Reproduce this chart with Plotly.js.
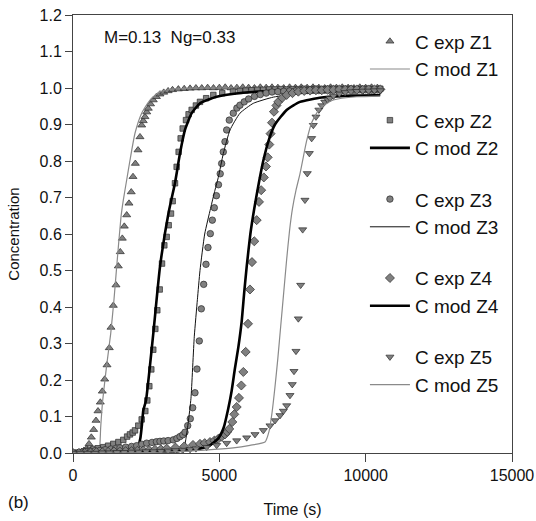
<!DOCTYPE html>
<html>
<head>
<meta charset="utf-8">
<script src="https://cdn.plot.ly/plotly-3.0.1.min.js"></script>
<style>html,body{margin:0;padding:0;background:#fff;}#chart{width:536px;height:521px;}</style>
</head>
<body>
<div id="chart"></div>
<script>
// ---- Experimental data (Time s, Concentration) ----
const t1e = [0,75,150,225,300,375,470,547,626,707,786,854,933,1001,1083,1162,1240,1298,1377,1469,1548,1616,1685,1753,1835,1913,1990,2050,2130,2221,2289,2347,2400,2460,2520,2573,2650,2743,2850,2972,3100,3250,3400,3600,3800,4000,4200,4400,4600,4800,5000,5200,5400,5600,5800,6000,6200,6400,6600,6800,7000,7200,7400,7600,7800,8000,8200,8400,8600,8800,9000,9200,9400,9600,9800,10000,10200,10400];
const c1e = [0,0,0.001,0.002,0.004,0.007,0.012,0.025,0.043,0.064,0.089,0.115,0.139,0.169,0.202,0.241,0.288,0.344,0.404,0.460,0.512,0.551,0.588,0.621,0.652,0.684,0.715,0.757,0.793,0.830,0.866,0.898,0.910,0.921,0.934,0.944,0.956,0.967,0.976,0.983,0.988,0.992,0.995,0.997,0.998,0.999,1.0,1.0,1.001,1.0,1.001,1.002,1.0,1.001,1.002,1.001,1.0,1.002,1.001,1.002,1.001,1.0,1.002,1.001,1.002,1.001,1.002,1.001,1.0,1.002,1.001,1.002,1.001,1.0,1.002,1.001,1.002,1.001];

const t2e = [0,150,300,450,581,700,850,1035,1200,1377,1550,1719,1850,1947,2040,2118,2231,2347,2471,2539,2607,2675,2743,2812,2880,2962,3041,3120,3200,3269,3348,3406,3485,3542,3610,3679,3748,3861,3950,4055,4200,4339,4550,4795,5100,5466,5700,5900,6100,6300,6500,6700,6900,7100,7300,7500,7700,7900,8100,8300,8500,8700,8900,9100,9300,9500,9700,9900,10100,10300,10500];
const c2e = [0,0,0.002,0.005,0.009,0.011,0.013,0.016,0.02,0.025,0.03,0.036,0.045,0.051,0.056,0.062,0.075,0.092,0.115,0.144,0.183,0.229,0.283,0.340,0.391,0.448,0.519,0.569,0.592,0.624,0.656,0.69,0.739,0.784,0.825,0.862,0.889,0.912,0.928,0.94,0.952,0.962,0.972,0.981,0.986,0.99,0.992,0.993,0.994,0.995,0.995,0.996,0.996,0.997,0.996,0.997,0.997,0.998,0.997,0.998,0.997,0.998,0.998,0.997,0.998,0.998,0.997,0.998,0.998,0.997,0.998];

const t3e = [0,150,300,450,600,750,922,1100,1300,1450,1606,1800,2000,2176,2350,2517,2700,2850,2972,3100,3250,3427,3550,3656,3750,3826,3919,4008,4090,4168,4236,4315,4384,4465,4544,4612,4692,4760,4828,4900,4970,5030,5080,5135,5193,5251,5340,5477,5600,5705,5850,6000,6200,6400,6600,6800,7000,7200,7400,7600,7800,8000,8200,8400,8600,8800,9000,9200,9400,9600,9800,10000,10200,10400];
const c3e = [0,0,0.002,0.004,0.005,0.006,0.007,0.009,0.011,0.012,0.014,0.016,0.018,0.02,0.024,0.027,0.029,0.031,0.032,0.033,0.034,0.036,0.04,0.045,0.05,0.057,0.075,0.094,0.124,0.165,0.230,0.307,0.395,0.462,0.517,0.563,0.601,0.638,0.672,0.705,0.735,0.765,0.793,0.825,0.853,0.885,0.912,0.931,0.945,0.953,0.962,0.97,0.977,0.982,0.986,0.989,0.99,0.991,0.992,0.992,0.993,0.993,0.994,0.993,0.994,0.994,0.995,0.994,0.995,0.994,0.995,0.995,0.994,0.995];

const t4e = [0,200,400,600,800,1000,1200,1400,1600,1800,2000,2200,2400,2600,2800,3000,3200,3500,3800,4100,4339,4500,4681,4830,4964,5080,5193,5270,5340,5443,5511,5593,5671,5752,5820,5900,5979,6047,6116,6194,6276,6355,6430,6520,6594,6652,6707,6750,6800,6867,6950,7014,7150,7301,7500,7700,7900,8100,8300,8500,8700,8900,9100,9300,9500,9700,9900,10100,10300,10500];
const c4e = [0,0,0,0.001,0.002,0.002,0.003,0.004,0.004,0.005,0.005,0.006,0.007,0.008,0.009,0.01,0.012,0.015,0.018,0.022,0.025,0.027,0.03,0.034,0.039,0.045,0.051,0.058,0.066,0.085,0.106,0.126,0.151,0.185,0.222,0.277,0.354,0.448,0.523,0.58,0.638,0.688,0.72,0.755,0.785,0.81,0.845,0.875,0.905,0.935,0.952,0.962,0.973,0.981,0.986,0.99,0.992,0.993,0.994,0.994,0.995,0.995,0.996,0.995,0.996,0.996,0.995,0.996,0.996,0.996];

const t5e = [0,250,500,750,1000,1250,1500,1750,2000,2250,2500,2750,3000,3250,3500,3750,4000,4200,4567,4909,5251,5593,5934,6218,6503,6731,6901,7072,7187,7301,7414,7492,7551,7619,7700,7779,7848,7926,8005,8075,8155,8211,8302,8400,8500,8600,8700,8780,8900,9100,9300,9500,9700,9900,10100,10300,10500];
const c5e = [0,0,0,0,0.001,0.001,0.002,0.002,0.003,0.003,0.004,0.004,0.005,0.006,0.007,0.008,0.01,0.012,0.016,0.021,0.027,0.034,0.042,0.051,0.062,0.075,0.089,0.103,0.115,0.13,0.158,0.188,0.224,0.279,0.368,0.46,0.612,0.693,0.766,0.821,0.862,0.898,0.921,0.94,0.952,0.962,0.968,0.972,0.978,0.984,0.988,0.99,0.991,0.992,0.992,0.993,0.993];

// ---- Model curves ----
const t1m = [0,850,900,946,1014,1150,1288,1400,1492,1640,1719,1834,1947,2118,2347,2631,2972,3500,4500,10500];
const c1m = [0,0,0.005,0.07,0.144,0.24,0.327,0.42,0.51,0.647,0.693,0.748,0.802,0.876,0.931,0.967,0.99,0.998,1.0,1.0];

const t2m = [0,1500,2000,2176,2300,2347,2403,2494,2743,2972,3270,3485,3656,3826,4055,4339,4909,5808,7000,8500,10500];
const c2m = [0,0,0.002,0.007,0.04,0.071,0.117,0.144,0.327,0.51,0.66,0.74,0.821,0.885,0.931,0.958,0.976,0.987,0.993,0.996,0.997];

const t3m = [0,3000,3500,3770,3860,3940,4031,4145,4250,4339,4500,4700,4850,4965,5135,5364,5705,6160,6844,7800,9000,10500];
const c3m = [0,0,0.001,0.007,0.04,0.085,0.15,0.32,0.42,0.5,0.6,0.67,0.72,0.755,0.82,0.885,0.931,0.958,0.975,0.985,0.99,0.992];

const t4m = [0,3000,4339,4681,4965,5150,5300,5420,5530,5650,5763,5850,5934,6060,6194,6350,6500,6700,6900,7300,7755,8500,9500,10500];
const c4m = [0,0.003,0.012,0.021,0.04,0.07,0.12,0.17,0.23,0.29,0.36,0.44,0.51,0.6,0.67,0.74,0.8,0.86,0.9,0.94,0.962,0.974,0.979,0.981];

const t5m = [0,3000,4500,5477,6047,6560,6700,6800,6900,7000,7100,7200,7300,7400,7500,7620,7755,7868,7982,8155,8439,8894,9692,10490];
const c5m = [0,0.002,0.008,0.014,0.021,0.03,0.06,0.11,0.18,0.26,0.35,0.44,0.53,0.61,0.67,0.72,0.765,0.81,0.855,0.905,0.945,0.967,0.976,0.978];

const names = ['C exp Z1','C mod Z1','C exp Z2','C mod Z2','C exp Z3','C mod Z3','C exp Z4','C mod Z4','C exp Z5','C mod Z5'];

const FONT = 'Liberation Sans, Arial, Helvetica, sans-serif';
const mfill = '#808080', mline = '#2a2a2a';

function expTrace(x, y, name, symbol, size, grp) {
  return {x: x, y: y, name: name, legendgroup: grp, type: 'scatter', mode: 'markers',
    marker: {symbol: symbol, size: size, color: mfill, line: {color: mline, width: 0.7}}};
}
function modTrace(x, y, name, color, width, grp) {
  return {x: x, y: y, name: name, legendgroup: grp, type: 'scatter', mode: 'lines',
    line: {color: color, width: width, shape: 'spline', smoothing: 0.5}};
}

const data = [
  expTrace(t1e, c1e, names[0], 'triangle-up', 7, 'g1'),
  modTrace(t1m, c1m, names[1], '#8a8a8a', 1.2, 'g1'),
  expTrace(t2e, c2e, names[2], 'square', 5.5, 'g2'),
  modTrace(t2m, c2m, names[3], '#000000', 2.6, 'g2'),
  expTrace(t3e, c3e, names[4], 'circle', 6.5, 'g3'),
  modTrace(t3m, c3m, names[5], '#111111', 1.0, 'g3'),
  expTrace(t4e, c4e, names[6], 'diamond', 7, 'g4'),
  modTrace(t4m, c4m, names[7], '#000000', 2.6, 'g4'),
  expTrace(t5e, c5e, names[8], 'triangle-down', 7, 'g5'),
  modTrace(t5m, c5m, names[9], '#8a8a8a', 1.2, 'g5')
];

const axisCommon = {
  showline: true, linecolor: '#444', linewidth: 1, mirror: true,
  ticks: 'outside', tickcolor: '#444', tickwidth: 1,
  showgrid: false, zeroline: false,
  tickfont: {family: FONT, size: 16, color: '#111'}
};

const layout = {
  width: 536, height: 521,
  margin: {l: 73, r: 24, t: 15, b: 68},
  paper_bgcolor: '#fff', plot_bgcolor: '#fff',
  font: {family: FONT, color: '#111'},
  xaxis: Object.assign({}, axisCommon, {
    range: [0, 15000], tickvals: [0, 5000, 10000, 15000], ticktext: ['0','5000','10000','15000'],
    ticklen: 8,
    title: {text: 'Time (s)', font: {family: FONT, size: 16, color: '#111'}, standoff: 20}
  }),
  yaxis: Object.assign({}, axisCommon, {
    range: [0, 1.2], dtick: 0.1, tick0: 0, tickformat: '.1f', ticklen: 7,
    title: {text: 'Concentration', font: {family: FONT, size: 15, color: '#111'}, standoff: 16}
  }),
  showlegend: true,
  legend: {
    x: 0.665, y: 0.983, xanchor: 'left', yanchor: 'top',
    traceorder: 'grouped', tracegroupgap: 23.5,
    bgcolor: 'rgba(0,0,0,0)', borderwidth: 0,
    font: {family: FONT, size: 19, color: '#111'},
    itemwidth: 40
  },
  annotations: [
    {text: 'M=0.13\u00a0 Ng=0.33', xref: 'paper', yref: 'paper', x: 0.065, y: 0.948,
     xanchor: 'left', yanchor: 'middle', showarrow: false, font: {family: FONT, size: 17, color: '#111'}},
    {text: '(b)', xref: 'paper', yref: 'paper', x: -0.153, y: -0.114,
     xanchor: 'left', yanchor: 'middle', showarrow: false, font: {family: FONT, size: 17, color: '#111'}}
  ]
};

Plotly.newPlot('chart', data, layout, {displayModeBar: false, staticPlot: true});
</script>
</body>
</html>
